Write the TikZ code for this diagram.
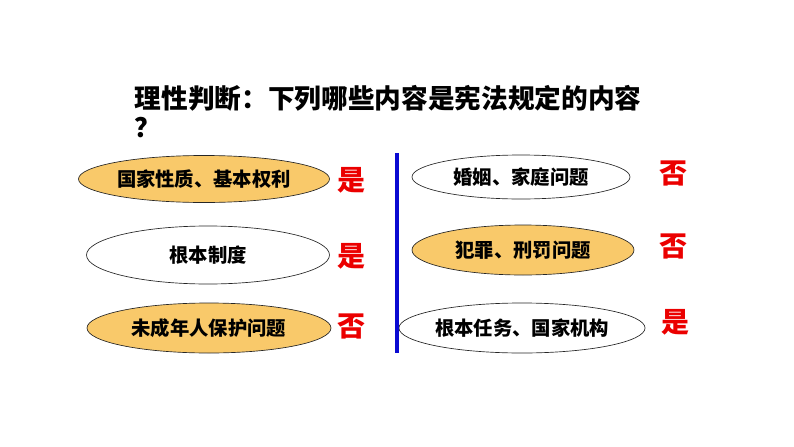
\documentclass[tikz,border=0pt]{standalone}
\usepackage{fontspec}
\setmainfont{Noto Sans CJK SC}
\usetikzlibrary{shapes.geometric}
\definecolor{gold}{RGB}{249,201,106}
\definecolor{mark red}{RGB}{235,0,0}
\definecolor{bar blue}{RGB}{10,10,210}

\begin{document}
\begin{tikzpicture}[x=0.75pt,y=-0.75pt,
  item node/.style={ellipse,draw=black!85,line width=0.5pt,inner sep=0pt,font=\fontsize{14.5}{16}\selectfont\bfseries},
  full node/.style={item node,fill=gold},
  answer/.style={text=mark red,font=\fontsize{21}{24}\selectfont\bfseries}]

  \useasboundingbox (0,0) rectangle (794,447);

  \node[anchor=west,font=\fontsize{20}{22}\selectfont\bfseries] (title) at (130,98) {理性判断：下列哪些内容是宪法规定的内容};
  \node[anchor=west,font=\fontsize{20}{22}\selectfont\bfseries] (mark) at (130,128) {？};

  \node[full node,minimum width=188.25pt,minimum height=35.25pt] (1) at (204,179) {国家性质、基本权利};
  \node[item node,minimum width=182.25pt,minimum height=43.5pt] (2) at (208,255) {根本制度};
  \node[full node,minimum width=183pt,minimum height=37.5pt] (3) at (209,328) {未成年人保护问题};

  \node[item node,minimum width=163.5pt,minimum height=33pt] (4) at (521,177) {婚姻、家庭问题};
  \node[full node,minimum width=166.5pt,minimum height=37.5pt] (5) at (523,250) {犯罪、刑罚问题};
  \node[item node,minimum width=165.75pt,minimum height=37.5pt] (6) at (522,328) {根本任务、国家机构};

  \node[answer] (a1) at (351,180) {是};
  \node[answer] (a2) at (351,256) {是};
  \node[answer] (a3) at (351,326) {否};
  \node[answer] (a4) at (673,173) {否};
  \node[answer] (a5) at (673,246) {否};
  \node[answer] (a6) at (675,322) {是};

  \coordinate (top) at (397,153);
  \coordinate (bottom) at (397,353);
  \draw[bar blue,line width=2.5pt] (top) -- (bottom);
\end{tikzpicture}
\end{document}
